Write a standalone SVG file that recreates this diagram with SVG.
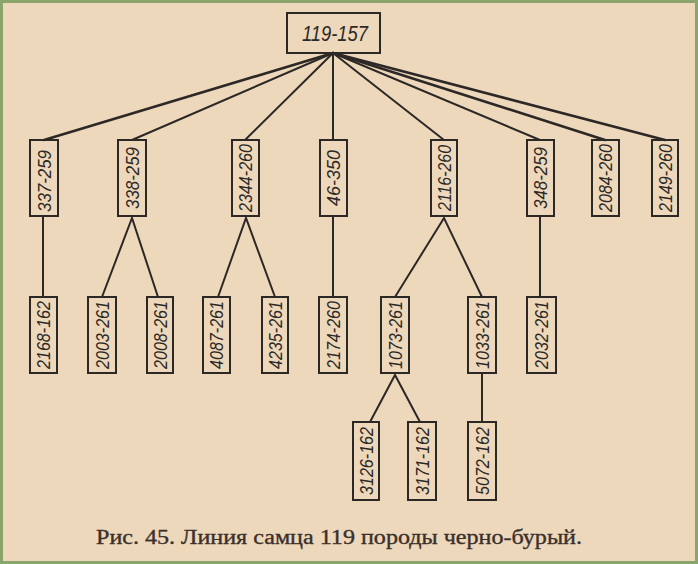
<svg xmlns="http://www.w3.org/2000/svg" width="698" height="564" viewBox="0 0 698 564">
<style>
.bg{fill:#eed8bb}
.frame{fill:none;stroke:#8aa56c;stroke-width:4}
.box{fill:none;stroke:#2b2826;stroke-width:2}
.lbl{font-family:"Liberation Sans",Arial,sans-serif;font-style:italic;font-size:18px;fill:#2b2826;text-anchor:middle}
.top{font-size:22px}
.con{stroke:#2b2826;stroke-width:2;fill:none;stroke-linecap:round}
.thick{stroke-width:2.6}
.cap{font-family:"Liberation Serif","Times New Roman",serif;font-size:20px;fill:#3a302c;stroke:#3a302c;stroke-width:0.35}
</style>
<rect class="bg" x="0" y="0" width="698" height="564"/>
<rect class="frame" x="1" y="1" width="696" height="562"/>
<g id="connectors">
<line class="con thick" x1="333" y1="53" x2="44" y2="140"/>
<line class="con" x1="333" y1="53" x2="132" y2="140"/>
<line class="con" x1="333" y1="53" x2="245" y2="140"/>
<line class="con" x1="333" y1="53" x2="333" y2="140"/>
<line class="con" x1="333" y1="53" x2="444" y2="140"/>
<line class="con" x1="333" y1="53" x2="540" y2="140"/>
<line class="con thick" x1="333" y1="53" x2="605" y2="140"/>
<line class="con thick" x1="333" y1="53" x2="665" y2="140"/>
<line class="con" x1="43" y1="216" x2="43" y2="297"/>
<polyline class="con" points="102,297 132,218 158,297"/>
<polyline class="con" points="218,297 246,218 275,297"/>
<line class="con" x1="333" y1="216" x2="333" y2="297"/>
<polyline class="con" points="395,297 444,218 482,297"/>
<line class="con" x1="540" y1="216" x2="540" y2="297"/>
<polyline class="con" points="370,422 395,375 420,422"/>
<line class="con" x1="482" y1="373" x2="482" y2="422"/>
</g>
<g id="n119-157"><rect class="box" x="287" y="13" width="93" height="40"/><text class="lbl top" x="335" y="41" textLength="66" lengthAdjust="spacingAndGlyphs">119-157</text></g>
<g id="n337-259"><rect class="box" x="30" y="140" width="28" height="76"/><text class="lbl" transform="translate(44,181) rotate(-90)" y="6.5" textLength="62" lengthAdjust="spacingAndGlyphs">337-259</text></g>
<g id="n338-259"><rect class="box" x="118" y="140" width="28" height="76"/><text class="lbl" transform="translate(132,178) rotate(-90)" y="6.5" textLength="62" lengthAdjust="spacingAndGlyphs">338-259</text></g>
<g id="n2344-260"><rect class="box" x="232" y="140" width="27" height="76"/><text class="lbl" transform="translate(245.5,178) rotate(-90)" y="6.5" textLength="68" lengthAdjust="spacingAndGlyphs">2344-260</text></g>
<g id="n46-350"><rect class="box" x="320" y="140" width="27" height="76"/><text class="lbl" transform="translate(333.5,178) rotate(-90)" y="6.5" textLength="56" lengthAdjust="spacingAndGlyphs">46-350</text></g>
<g id="n2116-260"><rect class="box" x="431" y="140" width="26" height="76"/><text class="lbl" transform="translate(444,178) rotate(-90)" y="6.5" textLength="66" lengthAdjust="spacingAndGlyphs">2116-260</text></g>
<g id="n348-259"><rect class="box" x="527" y="140" width="27" height="76"/><text class="lbl" transform="translate(540.5,178) rotate(-90)" y="6.5" textLength="62" lengthAdjust="spacingAndGlyphs">348-259</text></g>
<g id="n2084-260"><rect class="box" x="592" y="140" width="27" height="76"/><text class="lbl" transform="translate(605.5,178) rotate(-90)" y="6.5" textLength="68" lengthAdjust="spacingAndGlyphs">2084-260</text></g>
<g id="n2149-260"><rect class="box" x="652" y="140" width="26" height="76"/><text class="lbl" transform="translate(665,178) rotate(-90)" y="6.5" textLength="68" lengthAdjust="spacingAndGlyphs">2149-260</text></g>
<g id="n2168-162"><rect class="box" x="30" y="297" width="27" height="76"/><text class="lbl" transform="translate(43.5,335) rotate(-90)" y="6.5" textLength="68" lengthAdjust="spacingAndGlyphs">2168-162</text></g>
<g id="n2003-261"><rect class="box" x="88" y="297" width="28" height="76"/><text class="lbl" transform="translate(102,335) rotate(-90)" y="6.5" textLength="68" lengthAdjust="spacingAndGlyphs">2003-261</text></g>
<g id="n2008-261"><rect class="box" x="147" y="297" width="26" height="76"/><text class="lbl" transform="translate(160,335) rotate(-90)" y="6.5" textLength="68" lengthAdjust="spacingAndGlyphs">2008-261</text></g>
<g id="n4087-261"><rect class="box" x="203" y="297" width="27" height="76"/><text class="lbl" transform="translate(216.5,335) rotate(-90)" y="6.5" textLength="68" lengthAdjust="spacingAndGlyphs">4087-261</text></g>
<g id="n4235-261"><rect class="box" x="262" y="297" width="26" height="76"/><text class="lbl" transform="translate(275,335) rotate(-90)" y="6.5" textLength="68" lengthAdjust="spacingAndGlyphs">4235-261</text></g>
<g id="n2174-260"><rect class="box" x="319" y="297" width="28" height="76"/><text class="lbl" transform="translate(333,335) rotate(-90)" y="6.5" textLength="68" lengthAdjust="spacingAndGlyphs">2174-260</text></g>
<g id="n1073-261"><rect class="box" x="381" y="297" width="28" height="76"/><text class="lbl" transform="translate(395,335) rotate(-90)" y="6.5" textLength="68" lengthAdjust="spacingAndGlyphs">1073-261</text></g>
<g id="n1033-261"><rect class="box" x="468" y="297" width="28" height="76"/><text class="lbl" transform="translate(482,335) rotate(-90)" y="6.5" textLength="68" lengthAdjust="spacingAndGlyphs">1033-261</text></g>
<g id="n2032-261"><rect class="box" x="527" y="297" width="29" height="76"/><text class="lbl" transform="translate(541.5,335) rotate(-90)" y="6.5" textLength="68" lengthAdjust="spacingAndGlyphs">2032-261</text></g>
<g id="n3126-162"><rect class="box" x="353" y="422" width="26" height="78"/><text class="lbl" transform="translate(366,461) rotate(-90)" y="6.5" textLength="68" lengthAdjust="spacingAndGlyphs">3126-162</text></g>
<g id="n3171-162"><rect class="box" x="408" y="422" width="28" height="78"/><text class="lbl" transform="translate(422,461) rotate(-90)" y="6.5" textLength="68" lengthAdjust="spacingAndGlyphs">3171-162</text></g>
<g id="n5072-162"><rect class="box" x="468" y="422" width="28" height="78"/><text class="lbl" transform="translate(482,461) rotate(-90)" y="6.5" textLength="68" lengthAdjust="spacingAndGlyphs">5072-162</text></g>
<text class="cap" x="96" y="544" textLength="486" lengthAdjust="spacingAndGlyphs">Рис. 45. Линия самца 119 породы черно-бурый.</text>
</svg>
